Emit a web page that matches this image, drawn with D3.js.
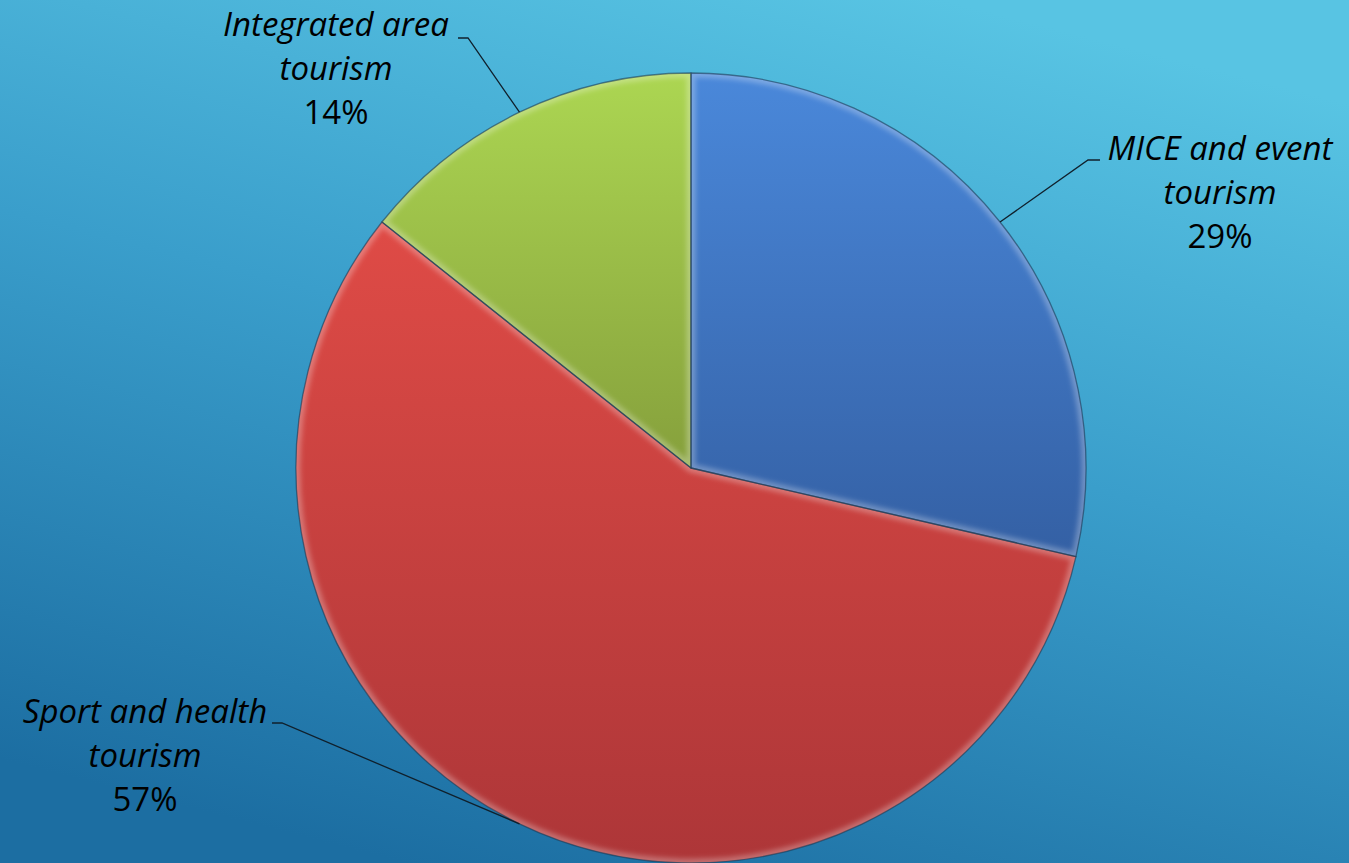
<!DOCTYPE html>
<html lang="en">
<head>
<meta charset="UTF-8">
<title>Tourism types</title>
<script src="https://cdn.jsdelivr.net/npm/d3@7"></script>
<style>
    html, body { margin: 0; padding: 0; overflow: hidden; }
    .lbl { font-family: "Open Sans", sans-serif; font-size: 33px; fill: #000; }
</style>
</head>
<body>
<svg id="chart" width="1349" height="863"></svg>
<script>
    // data
    const categories = ["MICE and event tourism", "Sport and health tourism", "Integrated area tourism"];
    const values = [28.6, 57.1, 14.3];
    const labelLines = [["MICE and event", "tourism"], ["Sport and health", "tourism"], ["Integrated area", "tourism"]];

    // slice colours: [top, bottom]
    const sliceColors = [["#4a88da", "#3460a4"], ["#df4b46", "#ad3638"], ["#acd652", "#86a03c"]];

    const W = 1349, H = 863;
    const cx = 691, cy = 468, r = 395;

    // where each label block sits (center x, first baseline) and the leader elbow
    const labelPos = [
        { x: 1220, y: 160, elbow: [1088, 160], end: [1100, 160] },
        { x: 145, y: 723, elbow: [282, 723], end: [272, 723] },
        { x: 336, y: 36, elbow: [468, 38], end: [458, 38] }
    ];

    const svg = d3.select("#chart");
    const defs = svg.append("defs");

    // background
    const bg = defs.append("linearGradient").attr("id", "bg")
        .attr("x1", "30%").attr("y1", "100%").attr("x2", "70%").attr("y2", "0%");
    bg.append("stop").attr("offset", "0%").attr("stop-color", "#1c6ea2");
    bg.append("stop").attr("offset", "55%").attr("stop-color", "#3a9ecb");
    bg.append("stop").attr("offset", "100%").attr("stop-color", "#58c4e3");
    svg.append("rect").attr("width", W).attr("height", H).attr("fill", "url(#bg)");

    const blur = defs.append("filter").attr("id", "soft").attr("x", "-10%").attr("y", "-10%").attr("width", "120%").attr("height", "120%");
    blur.append("feGaussianBlur").attr("stdDeviation", 2.5);

    const pie = d3.pie().sort(null).value(d => d)(values);
    const arc = d3.arc().innerRadius(0).outerRadius(r);
    const edge = d3.arc().innerRadius(r).outerRadius(r);

    sliceColors.forEach((c, i) => {
        const g = defs.append("linearGradient").attr("id", "sg" + i)
            .attr("x1", 0).attr("y1", 0).attr("x2", 0).attr("y2", 1);
        g.append("stop").attr("offset", "0%").attr("stop-color", c[0]);
        g.append("stop").attr("offset", "100%").attr("stop-color", c[1]);
        defs.append("clipPath").attr("id", "clip" + i)
            .append("path").attr("d", arc(pie[i])).attr("transform", `translate(${cx},${cy})`);
    });

    const pieG = svg.append("g").attr("transform", `translate(${cx},${cy})`);

    const slices = pieG.selectAll("g.slice").data(pie).enter().append("g").attr("class", "slice");
    slices.append("path")
        .attr("d", arc)
        .attr("fill", (d, i) => `url(#sg${i})`);

    // bevel: soft light rim inside each slice
    svg.append("g").selectAll("g").data(pie).enter().append("g")
        .attr("clip-path", (d, i) => `url(#clip${i})`)
        .append("path")
        .attr("transform", `translate(${cx},${cy})`)
        .attr("d", arc)
        .attr("fill", "none")
        .attr("stroke", "#ffffff")
        .attr("stroke-opacity", 0.28)
        .attr("stroke-width", 9)
        .attr("filter", "url(#soft)");

    svg.append("g").attr("transform", `translate(${cx},${cy})`)
        .selectAll("path").data(pie).enter().append("path")
        .attr("d", arc)
        .attr("fill", "none")
        .attr("stroke", "#1b3a55")
        .attr("stroke-opacity", 0.6)
        .attr("stroke-width", 1.3)
        .attr("stroke-linejoin", "round");

    // leader lines
    svg.append("g").selectAll("polyline").data(pie).enter().append("polyline")
        .attr("points", (d, i) => {
            const p = edge.centroid(d);
            const L = labelPos[i];
            return [[cx + p[0], cy + p[1]], L.elbow, L.end].map(q => q.join(",")).join(" ");
        })
        .attr("fill", "none")
        .attr("stroke", "#10202c")
        .attr("stroke-width", 1.3);

    // labels
    const lab = svg.append("g").selectAll("text").data(pie).enter().append("text")
        .attr("class", "lbl")
        .attr("text-anchor", "middle")
        .attr("x", (d, i) => labelPos[i].x)
        .attr("y", (d, i) => labelPos[i].y);
    lab.each(function (d, i) {
        const t = d3.select(this);
        labelLines[i].forEach((line, k) => {
            t.append("tspan").attr("x", labelPos[i].x).attr("dy", k === 0 ? 0 : 44)
                .attr("font-style", "italic").text(line);
        });
        t.append("tspan").attr("x", labelPos[i].x).attr("dy", 44)
            .text(Math.round(d.value) + "%");
    });
</script>
</body>
</html>
